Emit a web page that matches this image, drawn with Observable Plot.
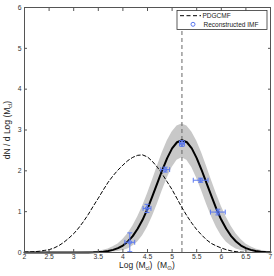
<!DOCTYPE html>
<html><head><meta charset="utf-8">
<script src="https://cdn.jsdelivr.net/npm/d3@7"></script>
<script src="https://cdn.jsdelivr.net/npm/@observablehq/plot@0.6"></script>
<style>
body{margin:0;background:#fff}
svg{font-family:"Liberation Sans",Arial,sans-serif}
</style>
</head><body><div id="chart"></div>
<script>
// x grid (Log M_cl)
const logM = [2.0,2.1,2.2,2.3,2.4,2.5,2.6,2.7,2.8,2.9,3.0,3.1,3.2,3.3,3.4,3.5,3.6,3.7,3.8,3.9,4.0,4.1,4.2,4.3,4.4,4.5,4.6,4.7,4.8,4.9,5.0,5.1,5.2,5.3,5.4,5.5,5.6,5.7,5.8,5.9,6.0,6.1,6.2,6.3,6.4,6.5,6.6,6.7,6.8,6.9,7.0];
// reconstructed IMF fit (solid) and its uncertainty band
const fitCurve = [0,0,0,0,0,0,0,0,0,0,0,0,0.001,0.002,0.005,0.011,0.020,0.036,0.064,0.107,0.17,0.27,0.40,0.58,0.80,1.07,1.38,1.70,2.02,2.31,2.55,2.70,2.75,2.70,2.55,2.31,2.02,1.70,1.38,1.07,0.80,0.58,0.40,0.27,0.17,0.107,0.064,0.036,0.020,0.011,0.005];
const bandUpper = [0,0,0,0,0,0,0,0,0,0,0,0,0.005,0.01,0.018,0.031,0.053,0.087,0.14,0.21,0.32,0.46,0.64,0.87,1.13,1.44,1.77,2.11,2.44,2.73,2.95,3.10,3.15,3.10,2.95,2.73,2.44,2.11,1.77,1.44,1.13,0.87,0.64,0.46,0.32,0.21,0.14,0.087,0.053,0.031,0.018];
const bandLower = [0,0,0,0,0,0,0,0,0,0,0,0,0,0,0,0,0,0.005,0.012,0.024,0.047,0.088,0.16,0.26,0.41,0.62,0.88,1.18,1.51,1.82,2.08,2.26,2.32,2.26,2.08,1.82,1.51,1.18,0.88,0.62,0.41,0.26,0.16,0.088,0.047,0.024,0.012,0.005,0,0,0];
// PDGCMF (dashed)
const pdgX = [2.0,2.1,2.2,2.3,2.4,2.5,2.6,2.7,2.8,2.9,3.0,3.1,3.2,3.3,3.4,3.5,3.6,3.7,3.8,3.9,4.0,4.1,4.2,4.3,4.4,4.5,4.6,4.7,4.8,4.9,5.0,5.1,5.2,5.3,5.4,5.5,5.6,5.7,5.8,5.9,6.0,6.1,6.2,6.3,6.4,6.5,6.6];
const pdgY = [0.01,0.015,0.02,0.03,0.05,0.07,0.11,0.17,0.25,0.35,0.46,0.60,0.76,0.94,1.14,1.33,1.53,1.72,1.88,2.02,2.14,2.25,2.33,2.38,2.39,2.34,2.23,2.09,1.92,1.73,1.54,1.32,1.10,0.90,0.72,0.56,0.43,0.31,0.22,0.16,0.11,0.07,0.04,0.02,0.01,0.005,0];
// reconstructed IMF points
const ptX = [4.14,4.49,4.86,5.20,5.58,5.93];
const ptY = [0.25,1.08,2.03,2.67,1.77,0.99];
const ptXErr = [0.10,0.08,0.09,0.05,0.15,0.15];
const ptYErr = [0.23,0.10,0.06,0.07,0.05,0.07];
// peak position marker
const peakLogM = [5.2];
// ticks
const xTicks = [2,2.5,3,3.5,4,4.5,5,5.5,6,6.5,7];
const yTicks = [0,1,2,3,4,5,6];
const legendLabels = ["PDGCMF","Reconstructed IMF"];

const curveRows = logM.map((x,i)=>({x, fit:fitCurve[i], hi:bandUpper[i], lo:bandLower[i]}));
const pdgRows = pdgX.map((x,i)=>({x, y:pdgY[i]}));
const pts = ptX.map((x,i)=>({x, y:ptY[i], ex:ptXErr[i], ey:ptYErr[i]}));

const blue = "#5a78f0";
const capX = 0.05, capY = 0.06;

const plot = Plot.plot({
  width:274, height:276,
  marginLeft:24, marginRight:4, marginTop:7, marginBottom:24,
  x:{domain:[2,7]},
  y:{domain:[0,6]},
  style:{fontFamily:"Liberation Sans, Arial, sans-serif", fontSize:"6.8px", color:"#333", background:"#fff"},
  marks:[
    Plot.areaY(curveRows,{x:"x", y1:"lo", y2:"hi", fill:"#c8c8c8"}),
    Plot.ruleX(peakLogM,{x:d=>d, y1:0, y2:6, stroke:"#666", strokeWidth:1, strokeDasharray:"4,3"}),
    Plot.line(pdgRows,{x:"x", y:"y", stroke:"#000", strokeWidth:1, strokeDasharray:"3.5,2.5"}),
    Plot.line(curveRows,{x:"x", y:"fit", stroke:"#000", strokeWidth:2}),
    // error bars
    Plot.link(pts,{x1:d=>d.x-d.ex, x2:d=>d.x+d.ex, y1:"y", y2:"y", stroke:blue, strokeWidth:1}),
    Plot.link(pts,{x1:"x", x2:"x", y1:d=>d.y-d.ey, y2:d=>d.y+d.ey, stroke:blue, strokeWidth:1}),
    Plot.link(pts,{x1:d=>d.x-capX, x2:d=>d.x+capX, y1:d=>d.y-d.ey, y2:d=>d.y-d.ey, stroke:blue, strokeWidth:1}),
    Plot.link(pts,{x1:d=>d.x-capX, x2:d=>d.x+capX, y1:d=>d.y+d.ey, y2:d=>d.y+d.ey, stroke:blue, strokeWidth:1}),
    Plot.link(pts,{x1:d=>d.x-d.ex, x2:d=>d.x-d.ex, y1:d=>d.y-capY, y2:d=>d.y+capY, stroke:blue, strokeWidth:1}),
    Plot.link(pts,{x1:d=>d.x+d.ex, x2:d=>d.x+d.ex, y1:d=>d.y-capY, y2:d=>d.y+capY, stroke:blue, strokeWidth:1}),
    Plot.dot(pts,{x:"x", y:"y", r:1.8, stroke:blue, strokeWidth:1, fill:"none"}),
    Plot.frame({stroke:"#555", strokeWidth:1}),
    // inward ticks on all sides
    Plot.axisX(xTicks,{anchor:"bottom", tickSize:-3, fill:"none", label:null, stroke:"#555"}),
    Plot.axisX(xTicks,{anchor:"top", tickSize:-3, fill:"none", label:null, stroke:"#555"}),
    Plot.axisY(yTicks,{anchor:"left", tickSize:-3, fill:"none", label:null, stroke:"#555"}),
    Plot.axisY(yTicks,{anchor:"right", tickSize:-3, fill:"none", label:null, stroke:"#555"}),
    // tick labels
    Plot.axisX(xTicks,{anchor:"bottom", tickSize:0, tickPadding:2, label:null, tickFormat:d=>String(d), fill:"#333"}),
    Plot.axisY(yTicks,{anchor:"left", tickSize:0, tickPadding:3, label:null, tickFormat:d=>String(d), fill:"#333"})
  ]
});
document.getElementById("chart").appendChild(plot);

const svg = d3.select(plot);
// axis titles with subscripts
const xl = svg.append("text").attr("x", 147).attr("y", 268).attr("text-anchor","middle")
  .attr("font-size", 8.5).attr("fill","#222");
xl.append("tspan").text("Log (M");
xl.append("tspan").attr("font-size",5.5).attr("dy",2).text("cl");
xl.append("tspan").attr("dy",-2).text(")  (M");
xl.append("tspan").attr("font-size",5.5).attr("dy",2).text("⊙");
xl.append("tspan").attr("dy",-2).text(")");

const yl = svg.append("text").attr("transform","translate(9.5,130) rotate(-90)").attr("text-anchor","middle")
  .attr("font-size", 8.5).attr("fill","#222");
yl.append("tspan").text("dN / d Log (M");
yl.append("tspan").attr("font-size",5.5).attr("dy",2).text("cl");
yl.append("tspan").attr("dy",-2).text(")");

// legend
const lg = svg.append("g").attr("text-anchor","start");
lg.append("rect").attr("x",177).attr("y",10.5).attr("width",90).attr("height",19)
  .attr("fill","#fff").attr("stroke","#333").attr("stroke-width",0.8);
lg.append("line").attr("x1",180).attr("x2",201).attr("y1",15.7).attr("y2",15.7)
  .attr("stroke","#000").attr("stroke-dasharray","4,2.5");
lg.append("text").attr("x",202.5).attr("y",18).attr("font-size",6.5).attr("fill","#222").text(legendLabels[0]);
lg.append("circle").attr("cx",193).attr("cy",24.3).attr("r",2).attr("fill","none").attr("stroke",blue);
lg.append("text").attr("x",203.5).attr("y",26.6).attr("font-size",6.5).attr("fill","#222").text(legendLabels[1]);
</script>
</body></html>
